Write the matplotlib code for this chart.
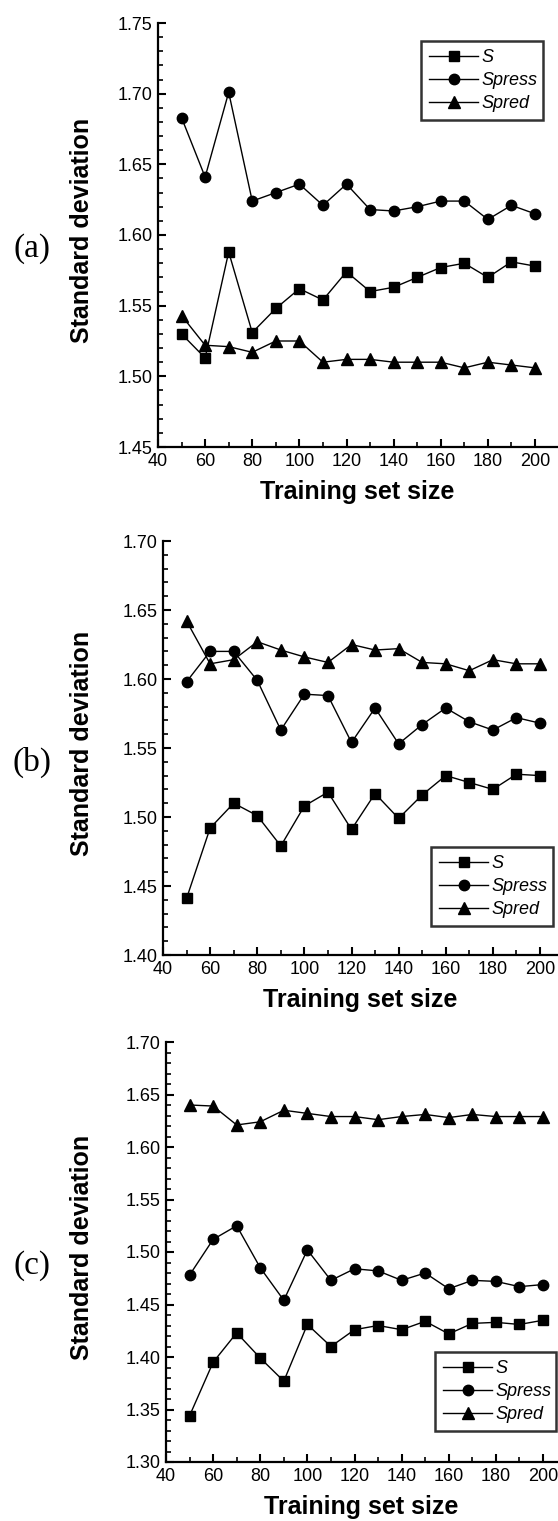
import matplotlib
matplotlib.use("Agg")
import matplotlib.pyplot as plt

plt.rcParams['font.family'] = ['Liberation Sans', 'DejaVu Sans']

# training set sizes (shared by all panels)
sizes = [50, 60, 70, 80, 90, 100, 110, 120, 130, 140, 150, 160, 170, 180, 190, 200]

# panel (a)
a_s = [1.530, 1.513, 1.588, 1.531, 1.548, 1.562, 1.554, 1.574, 1.560, 1.563,
       1.570, 1.577, 1.580, 1.570, 1.581, 1.578]
a_spress = [1.683, 1.641, 1.701, 1.624, 1.630, 1.636, 1.621, 1.636, 1.618, 1.617,
            1.620, 1.624, 1.624, 1.611, 1.621, 1.615]
a_spred = [1.543, 1.522, 1.521, 1.517, 1.525, 1.525, 1.510, 1.512, 1.512, 1.510,
           1.510, 1.510, 1.506, 1.510, 1.508, 1.506]

# panel (b)
b_s = [1.441, 1.492, 1.510, 1.501, 1.479, 1.508, 1.518, 1.491, 1.517, 1.499,
       1.516, 1.530, 1.525, 1.520, 1.531, 1.530]
b_spress = [1.598, 1.620, 1.620, 1.599, 1.563, 1.589, 1.588, 1.554, 1.579, 1.553,
            1.567, 1.579, 1.569, 1.563, 1.572, 1.568]
b_spred = [1.642, 1.611, 1.614, 1.627, 1.621, 1.616, 1.612, 1.625, 1.621, 1.622,
           1.612, 1.611, 1.606, 1.614, 1.611, 1.611]

# panel (c)
c_s = [1.344, 1.395, 1.423, 1.399, 1.377, 1.431, 1.410, 1.426, 1.430, 1.426,
       1.434, 1.422, 1.432, 1.433, 1.431, 1.435]
c_spress = [1.478, 1.512, 1.525, 1.485, 1.454, 1.502, 1.473, 1.484, 1.482, 1.473,
            1.480, 1.465, 1.473, 1.472, 1.467, 1.469]
c_spred = [1.640, 1.639, 1.621, 1.624, 1.635, 1.632, 1.629, 1.629, 1.626, 1.629,
           1.631, 1.628, 1.631, 1.629, 1.629, 1.629]

series_names = ['S', 'Spress', 'Spred']
markers = ['s', 'o', '^']
msizes = [7, 7.5, 8.5]

W, H = 558, 1521
fig = plt.figure(figsize=(W / 100, H / 100), dpi=100)

# (tag, data, ylim, yticks, axes box in px: left, top, bottom, legend box in px: left, top, right, bottom)
panels = [
    ('(a)', [a_s, a_spress, a_spred], (1.45, 1.75), [1.45, 1.50, 1.55, 1.60, 1.65, 1.70, 1.75],
     (158, 23, 447), (421, 43, 543, 120)),
    ('(b)', [b_s, b_spress, b_spred], (1.40, 1.70), [1.40, 1.45, 1.50, 1.55, 1.60, 1.65, 1.70],
     (163, 541, 955), (431, 844, 553, 926)),
    ('(c)', [c_s, c_spress, c_spred], (1.30, 1.70), [1.30, 1.35, 1.40, 1.45, 1.50, 1.55, 1.60, 1.65, 1.70],
     (166, 1042, 1462), (435, 1355, 556, 1431)),
]

for tag, data, ylim, yticks, (left, top, bottom), (ll, lt, lr, lb) in panels:
    right = 557
    ax = fig.add_axes([left / W, 1 - bottom / H, (right - left) / W, (bottom - top) / H])
    for vals, name, m, ms in zip(data, series_names, markers, msizes):
        ax.plot(sizes, vals, color='black', lw=1.0, marker=m, markersize=ms,
                markerfacecolor='black', markeredgecolor='black', label=name)

    ax.set_xlim(40, 40 + (right - left) * 160 / 377)
    ax.set_ylim(*ylim)
    ax.set_xticks([40, 60, 80, 100, 120, 140, 160, 180, 200])
    ax.set_xticks(range(50, 201, 20), minor=True)
    ax.set_yticks(yticks)
    ax.set_yticklabels(['%.2f' % v for v in yticks])
    ax.set_yticks([v / 100 for v in range(int(round(ylim[0] * 100)), int(round(ylim[1] * 100)) + 1)],
                  minor=True)

    ax.spines['top'].set_visible(False)
    ax.spines['right'].set_visible(False)
    ax.spines['left'].set_linewidth(1.6)
    ax.spines['bottom'].set_linewidth(1.6)
    ax.tick_params(which='major', direction='in', length=6, width=1.5, labelsize=13, pad=4)
    ax.tick_params(which='minor', direction='in', length=3.5, width=1.2)

    ax.set_xlabel('Training set size', fontsize=18, fontweight='bold')
    ax.xaxis.set_label_coords(0.5, -33 / (bottom - top))
    ax.set_ylabel('Standard deviation', fontsize=18, fontweight='bold')
    ax.yaxis.set_label_coords((94 - left) / (right - left), 0.51)

    leg = ax.legend(loc='lower left', bbox_to_anchor=(ll / W, 1 - lb / H, (lr - ll) / W, (lb - lt) / H),
                    bbox_transform=fig.transFigure, mode='expand',
                    numpoints=1, handlelength=2.7, handletextpad=0.2, borderpad=0.45,
                    labelspacing=0.33, fancybox=False, borderaxespad=0,
                    prop={'size': 13, 'style': 'italic'})
    leg.get_frame().set_edgecolor('black')
    leg.get_frame().set_linewidth(1.8)

    fig.text(32 / W, 1 - ((top + bottom) / 2 + 14) / H, tag, fontsize=24,
             family='Liberation Serif', ha='center', va='center')

fig.savefig('out.png', dpi=100)
